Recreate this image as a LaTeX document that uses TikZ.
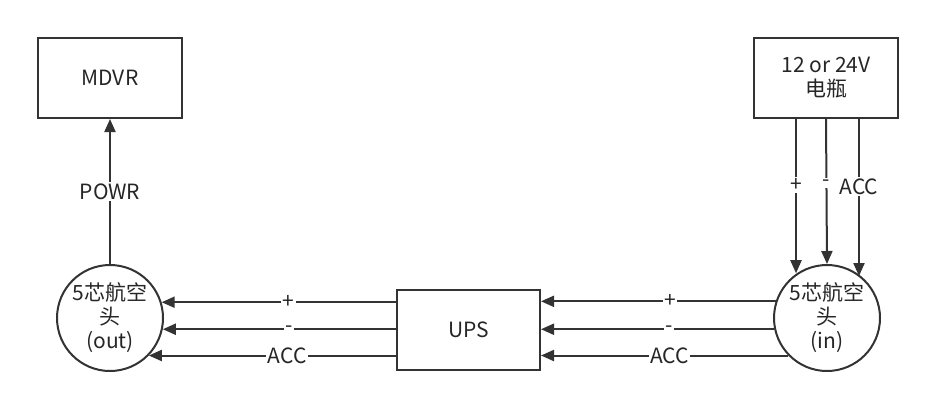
\documentclass[tikz,border=0pt]{standalone}
\usepackage{fontspec}
\setmainfont{Noto Sans CJK SC}
\usetikzlibrary{arrows.meta}
\begin{document}
\begin{tikzpicture}[x=1pt,y=-1pt,
  every node/.style={font=\fontsize{21}{24}\selectfont, text=black!85},
  box/.style={draw=black!80, line width=2pt, minimum width=144pt, minimum height=80pt, inner sep=0pt, align=center},
  plug/.style={draw=black!80, line width=2pt, circle, minimum size=106pt, inner sep=0pt, align=center},
  wire/.style={draw=black!80, line width=2pt, -{Triangle[length=13pt,width=11pt]}},
  lbl/.style={fill=white, inner sep=1.5pt}]
\useasboundingbox (0,0) rectangle (936,408);
\node[box] (mdvr) at (110,78) {MDVR};
\node[box] (bat) at (826,78) {12 or 24V\\电瓶};
\node[box, minimum width=143pt] (ups) at (468.5,330) {UPS};
\node[plug] (lc) at (110,318) {5芯航空\\头\\(out)};
\node[plug] (rc) at (827,318) {5芯航空\\头\\(in)};
% MDVR power
\draw[wire] (lc.north) -- node[lbl]{POWR} (mdvr.south);
% battery to right plug
\coordinate (bp) at ([xshift=-30pt]bat.south);
\coordinate (bm) at (bat.south);
\coordinate (ba) at ([xshift=33pt]bat.south);
\draw[wire] (bp) -- node[lbl, pos=0.43]{+} (bp |- rc.124.5);
\draw[wire] (bm) -- node[lbl, pos=0.44]{-} (rc.north);
\draw[wire] (ba) -- node[lbl, pos=0.43]{ACC} (ba |- rc.51.5);
% right plug to UPS
\draw[wire] (rc.162.4) -- node[lbl, pos=0.45]{+} (rc.162.4 -| ups.east);
\draw[wire] (rc.192) -- node[lbl, pos=0.45]{-} (rc.192 -| ups.east);
\draw[wire] (rc.224.3) -- node[lbl, pos=0.48]{ACC} (rc.224.3 -| ups.east);
% UPS to left plug
\draw[wire] (lc.17.6 -| ups.west) -- node[lbl, pos=0.46]{+} (lc.17.6);
\draw[wire] (lc.-12 -| ups.west) -- node[lbl, pos=0.46]{-} (lc.-12);
\draw[wire] (lc.-44.3 -| ups.west) -- node[lbl, pos=0.44]{ACC} (lc.-44.3);
\end{tikzpicture}
\end{document}
